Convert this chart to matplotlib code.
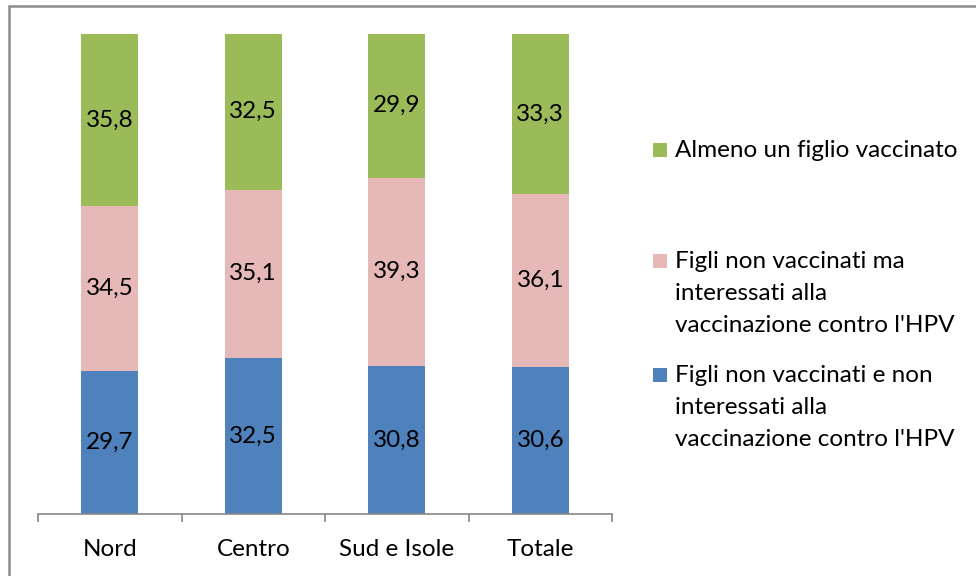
import matplotlib.pyplot as plt
from matplotlib.patches import Rectangle

# Dati
regioni = ["Nord", "Centro", "Sud e Isole", "Totale"]
non_interessati = [29.7, 32.5, 30.8, 30.6]
interessati = [34.5, 35.1, 39.3, 36.1]
vaccinato = [35.8, 32.5, 29.9, 33.3]

serie = [
    ("Figli non vaccinati e non\ninteressati alla\nvaccinazione contro l'HPV", non_interessati, "#4F81BD"),
    ("Figli non vaccinati ma\ninteressati alla\nvaccinazione contro l'HPV", interessati, "#E6B9B8"),
    ("Almeno un figlio vaccinato", vaccinato, "#9BBB59"),
]

plt.rcParams['font.family'] = ['Lato', 'DejaVu Sans']
fs = 17.5

fig = plt.figure(figsize=(9.76, 5.76), dpi=100)
W, H = 976, 576

# cornice grigia
fig.patches.append(Rectangle((9 / W, -0.1), 1.2, 1 - 6 / H + 0.1, transform=fig.transFigure,
                             fill=False, edgecolor="#8c8c8c", linewidth=1.8))

ax = fig.add_axes([38 / W, 1 - 514 / H, (612 - 38) / W, (514 - 34) / H])

x = range(len(regioni))
base = [0] * len(regioni)
for nome, vals, col in serie:
    ax.bar(x, vals, width=0.4, bottom=base, color=col, edgecolor="none")
    for i, v in enumerate(vals):
        ax.text(i, base[i] + v / 2, f"{v:.1f}".replace(".", ","), ha="center", va="center",
                fontsize=fs, color="black")
    base = [b + v for b, v in zip(base, vals)]

ax.set_xlim(-0.5, 3.5)
ax.set_ylim(0, 100)
ax.set_yticks([])
for s in ["top", "right", "left"]:
    ax.spines[s].set_visible(False)
ax.spines["bottom"].set_color("#868686")
ax.spines["bottom"].set_linewidth(1.2)
ax.set_xticks(list(x))
ax.set_xticklabels(regioni, fontsize=fs)
ax.tick_params(axis="x", which="major", length=0, pad=18)
ax.set_xticks([-0.5, 0.5, 1.5, 2.5, 3.5], minor=True)
ax.tick_params(axis="x", which="minor", length=6, width=1.2, color="#868686", direction="out")

# legenda (stile Excel)
prime_righe = {"Almeno un figlio vaccinato": 150,
               serie[1][0]: 261,
               serie[0][0]: 375}
passo = 32.5
for nome, vals, col in reversed(serie):
    y0 = prime_righe[nome]
    fig.patches.append(Rectangle((653 / W, 1 - (y0 + 7) / H), 14 / W, 14 / H,
                                 transform=fig.transFigure, facecolor=col, edgecolor="none"))
    for k, riga in enumerate(nome.split("\n")):
        fig.text(675 / W, 1 - (y0 + k * passo) / H, riga, fontsize=fs, va="center", ha="left")

fig.savefig("out.png", dpi=100)
